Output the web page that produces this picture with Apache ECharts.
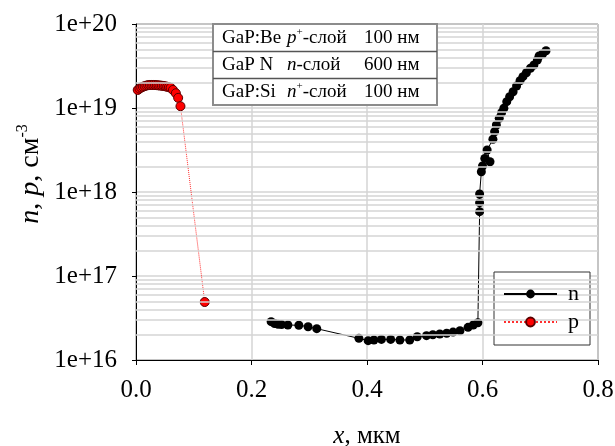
<!DOCTYPE html>
<html>
<head>
<meta charset="utf-8">
<script src="https://cdn.jsdelivr.net/npm/echarts@6/dist/echarts.min.js"></script>
<style>
  html, body { margin: 0; padding: 0; background: #fff; }
  #chart { width: 615px; height: 446px; }
</style>
</head>
<body>
<div id="chart"></div>
<script>
// p-layer profile (red)
const pX = [0.003, 0.006, 0.009, 0.012, 0.015, 0.018, 0.021, 0.024, 0.027, 0.030, 0.033, 0.036,
  0.039, 0.042, 0.045, 0.048, 0.051, 0.054, 0.057, 0.060, 0.064, 0.069, 0.073, 0.077, 0.119]
const pY = [1.64e19, 1.70e19, 1.75e19, 1.79e19, 1.82e19, 1.85e19, 1.87e19, 1.88e19, 1.88e19, 1.88e19,
  1.88e19, 1.87e19, 1.86e19, 1.85e19, 1.84e19, 1.83e19, 1.81e19, 1.79e19, 1.77e19, 1.74e19,
  1.64e19, 1.50e19, 1.32e19, 1.05e19, 4.9e16]

// n-layer profile (black)
const nX = [0.234, 0.240, 0.246, 0.252, 0.263, 0.282, 0.298, 0.313,
  0.386, 0.402, 0.412, 0.425, 0.441, 0.457, 0.474, 0.487, 0.503, 0.514, 0.526, 0.538,
  0.549, 0.561, 0.575, 0.584, 0.592, 0.595, 0.595, 0.595,
  0.598, 0.600, 0.604, 0.613, 0.608, 0.618, 0.621, 0.624, 0.629, 0.633, 0.637, 0.642,
  0.647, 0.653, 0.659, 0.665, 0.670, 0.676, 0.683, 0.689, 0.695, 0.698, 0.704, 0.710]
const nY = [2.86e16, 2.72e16, 2.66e16, 2.64e16, 2.61e16, 2.59e16, 2.49e16, 2.36e16,
  1.81e16, 1.70e16, 1.73e16, 1.76e16, 1.76e16, 1.73e16, 1.73e16, 1.89e16, 1.95e16, 2.00e16, 2.04e16, 2.08e16,
  2.15e16, 2.23e16, 2.45e16, 2.61e16, 2.78e16, 5.83e17, 7.46e17, 9.47e17,
  1.74e18, 2.04e18, 2.51e18, 2.29e18, 3.16e18, 4.24e18, 5.22e18, 6.28e18, 7.54e18, 8.79e18, 9.92e18, 1.19e19,
  1.36e19, 1.56e19, 1.83e19, 2.11e19, 2.36e19, 2.63e19, 2.97e19, 3.25e19, 3.73e19, 4.16e19, 4.39e19, 4.81e19]

// minor log grid lines (2..9 x each decade)
const minorLines = []
for (let d = 16; d < 20; d++) {
  for (let k = 2; k <= 9; k++) minorLines.push(k * Math.pow(10, d))
}

const layers = [
  ['GaP:Be', '{i|p}{s|+}{r|-слой}', '100 нм'],
  ['GaP N', '{i|n}{r|-слой}', '600 нм'],
  ['GaP:Si', '{i|n}{s|+}{r|-слой}', '100 нм']
]

const serif = 'Liberation Serif'
const gridGray = '#d4d4d4'

function zip(xs, ys) {
  return xs.map((x, i) => [x, ys[i]])
}

const tableRich = {
  i: { fontFamily: serif, fontSize: 19, fontStyle: 'italic', lineHeight: 23, fill: '#000' },
  r: { fontFamily: serif, fontSize: 19, lineHeight: 23, fill: '#000' },
  s: { fontFamily: serif, fontSize: 11, lineHeight: 11, verticalAlign: 'top', fill: '#000' }
}

const tableEls = [{
  type: 'rect',
  z: 100,
  shape: { x: 213, y: 24, width: 224, height: 81 },
  style: { fill: '#fff', stroke: '#8c8c8c', lineWidth: 2 }
}, {
  type: 'line',
  z: 101,
  shape: { x1: 213, y1: 51.5, x2: 437, y2: 51.5 },
  style: { stroke: '#555', lineWidth: 1.5 }
}, {
  type: 'line',
  z: 101,
  shape: { x1: 213, y1: 78.5, x2: 437, y2: 78.5 },
  style: { stroke: '#555', lineWidth: 1.5 }
}]
const colX = [222, 287, 364]
layers.forEach((row, r) => {
  row.forEach((txt, c) => {
    tableEls.push({
      type: 'text',
      z: 102,
      x: colX[c],
      y: 38 + r * 27,
      style: {
        text: txt.indexOf('{') === 0 ? txt : '{r|' + txt + '}',
        rich: tableRich,
        verticalAlign: 'middle',
        align: 'left'
      }
    })
  })
})

const chart = echarts.init(document.getElementById('chart'))

chart.setOption({
  animation: false,
  backgroundColor: '#fff',
  grid: {
    left: 136, right: 17, top: 24, bottom: 86,
    outerBoundsMode: 'none',
    containLabel: false,
    show: true, borderColor: '#333', borderWidth: 1, backgroundColor: 'transparent'
  },
  xAxis: {
    type: 'value',
    min: 0, max: 0.8, interval: 0.2,
    name: '{i|x}{r|, мкм}',
    nameLocation: 'middle',
    nameGap: 64,
    nameTextStyle: {
      rich: {
        i: { fontFamily: serif, fontSize: 25, fontStyle: 'italic', color: '#000' },
        r: { fontFamily: serif, fontSize: 25, color: '#000' }
      }
    },
    axisLine: { lineStyle: { color: '#000', width: 1 } },
    axisTick: { length: 5, lineStyle: { color: '#000' } },
    axisLabel: {
      margin: 18, color: '#000', fontFamily: serif, fontSize: 25,
      showMinLabel: true, showMaxLabel: true,
      formatter: v => v.toFixed(1)
    },
    splitLine: { show: true, lineStyle: { color: gridGray, width: 1.5 } }
  },
  yAxis: {
    type: 'log',
    logBase: 10,
    min: 1e16, max: 1e20,
    splitNumber: 4,
    axisLine: { show: true, lineStyle: { color: '#000', width: 1 } },
    axisTick: { show: true, length: 4, lineStyle: { color: '#000' } },
    axisLabel: {
      margin: 19, color: '#000', fontFamily: serif, fontSize: 25,
      formatter: v => '1e+' + Math.round(Math.log10(v))
    },
    splitLine: { show: true, lineStyle: { color: gridGray, width: 1.5 } }
  },
  legend: {
    orient: 'vertical',
    left: 494, top: 272,
    z: 6,
    data: ['n', 'p'],
    itemWidth: 53, itemHeight: 11, itemGap: 6,
    padding: [11, 10, 11, 9],
    textStyle: { fontFamily: serif, fontSize: 22, lineHeight: 22, color: '#000', padding: [0, 0, 0, 6] }
  },
  graphic: [{
    type: 'text',
    x: 31, y: 174,
    rotation: Math.PI / 2,
    style: {
      text: '{i|n}{r|, }{i|p}{r|, см}{s|-3}',
      align: 'center',
      verticalAlign: 'middle',
      rich: {
        i: { fontFamily: serif, fontSize: 28, fontStyle: 'italic', lineHeight: 33, fill: '#000' },
        r: { fontFamily: serif, fontSize: 28, lineHeight: 33, fill: '#000' },
        s: { fontFamily: serif, fontSize: 16, lineHeight: 16, verticalAlign: 'top', fill: '#000' }
      }
    }
  }, {
    // legend frame
    type: 'rect',
    z: 5,
    shape: { x: 494, y: 272, width: 96, height: 73 },
    style: { fill: '#fff', stroke: '#333', lineWidth: 1 }
  }, {
    type: 'group',
    z: 100,
    children: tableEls
  }],
  series: [{
    type: 'line',
    z: 1,
    data: [],
    silent: true,
    markLine: {
      silent: true,
      symbol: 'none',
      label: { show: false },
      lineStyle: { color: gridGray, width: 1.5, type: 'solid' },
      data: minorLines.map(v => ({ yAxis: v }))
    }
  }, {
    name: 'n',
    type: 'line',
    z: 2,
    data: zip(nX, nY),
    symbol: 'circle',
    symbolSize: 9,
    showAllSymbol: true,
    itemStyle: { color: '#000' },
    lineStyle: { color: '#000', width: 1 }
  }, {
    name: 'p',
    type: 'line',
    z: 3,
    data: zip(pX, pY),
    symbol: 'circle',
    symbolSize: 9,
    showAllSymbol: true,
    itemStyle: { color: '#ff0000', borderColor: '#5a0000', borderWidth: 1 },
    lineStyle: { color: '#ff3030', width: 1, type: 'dotted' }
  }]
})
</script>
</body>
</html>
